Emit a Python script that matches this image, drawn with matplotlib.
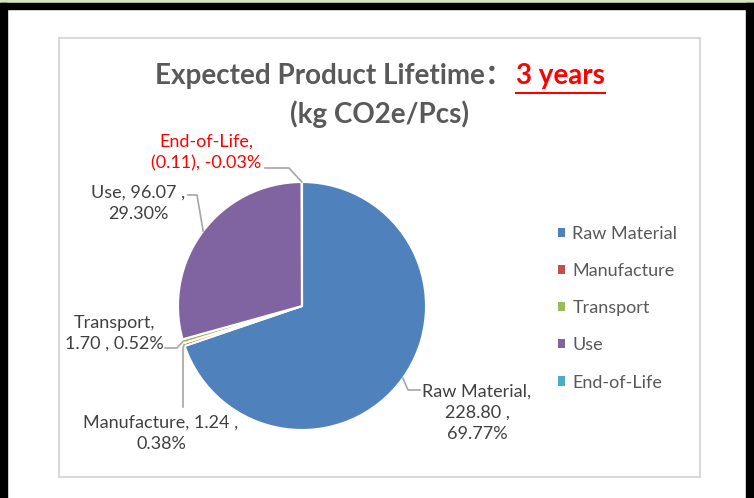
import matplotlib
matplotlib.use("Agg")
import matplotlib.pyplot as plt
from matplotlib.patches import Rectangle, Patch
import numpy as np

plt.rcParams['font.family'] = ['Lato', 'Noto Sans CJK SC', 'DejaVu Sans']

# data
stages = ['Raw Material', 'Manufacture', 'Transport', 'Use', 'End-of-Life']
values = [228.80, 1.24, 1.70, 96.07, -0.11]
shares = ['69.77%', '0.38%', '0.52%', '29.30%', '-0.03%']
colors = ['#4F81BD', '#C0504D', '#9BBB59', '#8064A2', '#4BACC6']
label_text = ['Raw Material,\n228.80 ,\n69.77%',
              'Manufacture, 1.24 ,\n0.38%',
              'Transport,\n1.70 , 0.52%',
              'Use, 96.07 ,\n29.30%',
              'End-of-Life,\n(0.11), -0.03%']

W, H = 754, 498
fig = plt.figure(figsize=(W / 100, H / 100), dpi=100)
ax = fig.add_axes([0, 0, 1, 1])

def Y(py):
    return H - py

# pie geometry (pixels)
cx, cy, r = 302, 306, 124

sizes = np.abs(values)
wedges, _ = ax.pie(sizes, colors=colors, startangle=90, counterclock=False,
                   center=(cx, Y(cy)), radius=r, frame=True,
                   wedgeprops=dict(edgecolor='white', linewidth=1.5))
ax.set_xlim(0, W)
ax.set_ylim(0, H)
ax.set_aspect('auto')
ax.axis('off')

# outer page bits
ax.add_patch(Rectangle((0, Y(3)), W, 3, color='#D8E4BC', clip_on=False))
ax.add_patch(Rectangle((0, Y(9)), W, 6.5, color='black'))
ax.add_patch(Rectangle((0, 0), 7, H - 3, color='black'))
ax.add_patch(Rectangle((746, 0), 8, H - 3, color='black'))
# chart frame
ax.add_patch(Rectangle((59, Y(477)), 641, 439, fill=False,
                       edgecolor='#D9D9D9', linewidth=1.5))

# data labels with leader lines
frac = sizes / sizes.sum()
start = np.concatenate([[0], np.cumsum(frac)[:-1]])
mid = np.deg2rad(90 - 360 * (start + frac / 2))
anchors = [(cx + r * np.cos(a), Y(cy) + r * np.sin(a)) for a in mid]

label_pos = [(477, 413), (161, 433.5), (114, 333.5), (138, 203.5), (206, 152.5)]
leader_pts = [[(420, 390), (408, 390)],
              [(183, 407), (183, 348)],
              [(165, 348), (177, 348)],
              [(188, 195), (197, 195)],
              [(265, 168), (289, 168)]]
label_colors = ['#404040', '#404040', '#404040', '#404040', '#FF0000']

for i in range(len(stages)):
    lx, ly = label_pos[i]
    ax.text(lx, Y(ly), label_text[i], ha='center', va='center', fontsize=13,
            color=label_colors[i], linespacing=1.38)
    xs = [p[0] for p in leader_pts[i]] + [anchors[i][0]]
    ys = [Y(p[1]) for p in leader_pts[i]] + [anchors[i][1]]
    ax.plot(xs, ys, color='#A6A6A6', linewidth=1.2, clip_on=False)

# title
fig.canvas.draw()
rend = fig.canvas.get_renderer()
t1 = ax.text(0, Y(76), 'Expected Product Lifetime：', ha='left', va='center',
             fontsize=20, fontweight='bold', color='#595959')
t2 = ax.text(0, Y(76), '3 years', ha='left', va='center',
             fontsize=20, fontweight='bold', color='#FF0000')
w1 = t1.get_window_extent(rend).width
w2 = t2.get_window_extent(rend).width
gap = 3
x0 = 380 - (w1 + w2 + gap) / 2
t1.set_x(x0)
t2.set_x(x0 + w1 + gap)
ax.plot([x0 + w1 + gap, x0 + w1 + gap + w2], [Y(92.5), Y(92.5)],
        color='#FF0000', linewidth=1.5)
ax.text(380, Y(114), '(kg CO2e/Pcs)', ha='center', va='center',
        fontsize=20, fontweight='bold', color='#595959')

# legend
handles = [Patch(facecolor=c, edgecolor='none') for c in colors]
leg = ax.legend(handles, stages, loc='upper left', bbox_to_anchor=(558, Y(226)),
                bbox_transform=ax.transData, frameon=False, fontsize=13,
                handlelength=0.4, handleheight=0.4, handletextpad=0.4,
                labelspacing=1.17, borderpad=0, borderaxespad=0)
for t in leg.get_texts():
    t.set_color('#595959')

fig.savefig('out.png', dpi=100)
